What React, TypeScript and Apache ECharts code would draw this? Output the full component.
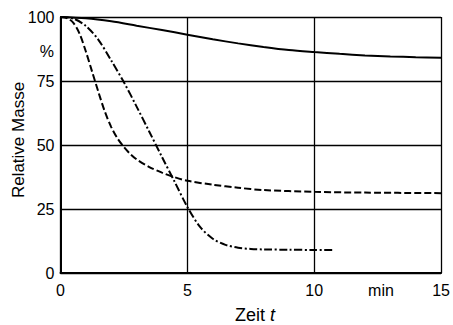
import React, { useEffect, useRef } from "react";
import * as echarts from "echarts";

const xTicks = [0, 5, 10, 15];
const yTicks = [0, 25, 50, 75, 100];

const solidT = [0, 1, 2, 3, 4, 5, 6, 7, 8, 9, 10, 11, 12, 13, 14, 15];
const solidM = [100, 99.5, 98.3, 96.6, 94.9, 93.1, 91.3, 89.7, 88.3, 87.1, 86.3, 85.6, 85.0, 84.6, 84.3, 84.1];

const dashedT = [0, 0.25, 0.5, 0.75, 1.0, 1.25, 1.5, 1.75, 2.0, 2.25, 2.5, 2.75, 3.0, 3.5, 4.0, 4.5, 5, 6, 7, 8, 10, 12, 15];
const dashedM = [100, 99.6, 97.8, 93.5, 86.5, 78.5, 70.5, 63, 57, 52.5, 49.2, 46.5, 44.4, 41.4, 39.2, 37.4, 36.0, 34.5, 33.3, 32.4, 31.7, 31.4, 31.2];

const dashDotT = [0, 0.5, 1.0, 1.5, 2.0, 2.5, 3.0, 3.5, 4.0, 4.5, 5.0, 5.5, 6.0, 6.5, 7.0, 7.5, 8, 9, 10, 10.8];
const dashDotM = [100, 99.4, 96.5, 91, 83, 74.5, 65, 55.2, 45.3, 35.6, 25.8, 18, 13.4, 11.0, 9.9, 9.4, 9.2, 9.1, 9.0, 9.0];

const FONT = "Liberation Sans";

function pairs(t: number[], m: number[]) {
  return t.map((v, i) => [v, m[i]]);
}

export default function App() {
  const ref = useRef<HTMLDivElement>(null);
  useEffect(() => {
    if (!ref.current) return;
    const chart = echarts.init(ref.current, null, { renderer: "svg" });
    const lineBase = { type: "line", symbol: "none", smooth: 0.3, silent: true };
    chart.setOption({
      animation: false,
      backgroundColor: "#ffffff",
      grid: { left: 60.5, right: 7.5, top: 17, bottom: 52 },
      xAxis: {
        type: "value",
        min: xTicks[0],
        max: xTicks[xTicks.length - 1],
        interval: 5,
        axisLine: { show: true, onZero: false, lineStyle: { color: "#000", width: 2 } },
        axisTick: { show: false },
        axisLabel: { color: "#000", fontSize: 16, fontFamily: FONT, margin: 9 },
        splitLine: { show: true, lineStyle: { color: "#000", width: 1.3 } },
      },
      yAxis: {
        type: "value",
        min: yTicks[0],
        max: yTicks[yTicks.length - 1],
        interval: 25,
        axisLine: { show: true, lineStyle: { color: "#000", width: 2 } },
        axisTick: { show: false },
        axisLabel: { color: "#000", fontSize: 16, fontFamily: FONT, margin: 6 },
        splitLine: { show: true, lineStyle: { color: "#000", width: 1.3 } },
      },
      graphic: [
        {
          type: "text",
          x: 18,
          y: 140,
          rotation: Math.PI / 2,
          style: { text: "Relative Masse", fontSize: 17, fontFamily: FONT, fill: "#000", align: "center", verticalAlign: "middle" },
        },
        {
          type: "text",
          x: 54,
          y: 51,
          style: { text: "%", fontSize: 16, fontFamily: FONT, fill: "#000", align: "right", verticalAlign: "middle" },
        },
        {
          type: "text",
          x: 381,
          y: 290,
          style: { text: "min", fontSize: 16, fontFamily: FONT, fill: "#000", align: "center", verticalAlign: "middle" },
        },
        {
          type: "text",
          x: 255,
          y: 315,
          style: {
            text: "Zeit {i|t}",
            fontSize: 18,
            fontFamily: FONT,
            fill: "#000",
            align: "center",
            verticalAlign: "middle",
            rich: { i: { fontStyle: "italic", fontSize: 18, fontFamily: FONT, fill: "#000" } },
          },
        },
      ],
      series: [
        { ...lineBase, name: "solid", data: pairs(solidT, solidM), lineStyle: { color: "#000", width: 2, type: "solid" } },
        { ...lineBase, name: "dashed", data: pairs(dashedT, dashedM), lineStyle: { color: "#000", width: 2, type: [7, 3] } },
        { ...lineBase, name: "dashdot", data: pairs(dashDotT, dashDotM), lineStyle: { color: "#000", width: 2, type: [8, 2.5, 2, 2.5] } },
      ],
    });
    return () => chart.dispose();
  }, []);
  return <div ref={ref} style={{ position: "absolute", left: 0, top: 0, width: 453, height: 325 }} />;
}
